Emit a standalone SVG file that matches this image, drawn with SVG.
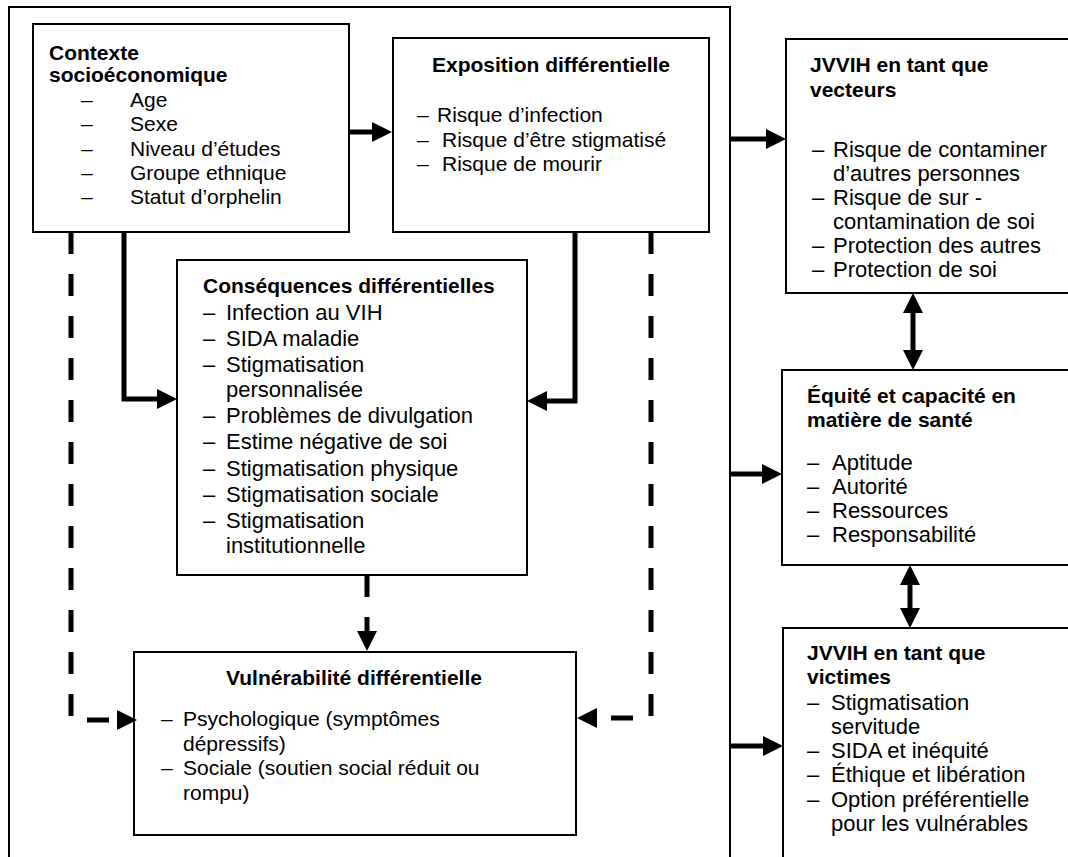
<svg xmlns="http://www.w3.org/2000/svg" width="1068" height="857" viewBox="0 0 1068 857">
<style>
.box{fill:#fff;stroke:#000;stroke-width:2}
.frame{fill:none;stroke:#000;stroke-width:2}
text{font-family:"Liberation Sans",Arial,sans-serif;fill:#000}
.t{font-size:21px;font-weight:bold}
.i{font-size:21px}
.j{font-size:22px}
.c{fill:none;stroke:#000;stroke-width:5}
.d{fill:none;stroke:#000;stroke-width:5;stroke-dasharray:22 20}
</style>
<defs>
<marker id="ah" markerUnits="userSpaceOnUse" markerWidth="20" markerHeight="20" viewBox="0 0 20 20" refX="1" refY="10" orient="auto-start-reverse">
<path d="M0,0 L20,10 L0,20 z" fill="#000"/>
</marker>
</defs>
<rect width="1068" height="857" fill="#fff"/>
<path class="frame" d="M9,857 V7 H730 V857"/>

<g id="contexte">
<rect class="box" x="33" y="24" width="316" height="208"/>
<text class="t" x="49" y="60">Contexte</text>
<text class="t" x="49" y="82">socioéconomique</text>
<g class="i">
<text x="81" y="107">–</text><text x="130" y="107">Age</text>
<text x="81" y="131">–</text><text x="130" y="131">Sexe</text>
<text x="81" y="155.5">–</text><text x="130" y="155.5">Niveau d’études</text>
<text x="81" y="180">–</text><text x="130" y="180">Groupe ethnique</text>
<text x="81" y="204">–</text><text x="130" y="204">Statut d’orphelin</text>
</g>
</g>

<g id="exposition">
<rect class="box" x="393" y="38" width="316" height="194"/>
<text class="t" x="551" y="72" text-anchor="middle">Exposition différentielle</text>
<g class="i">
<text x="417" y="122">–</text><text x="437" y="122">Risque d’infection</text>
<text x="417" y="146.5">–</text><text x="442" y="146.5">Risque d’être stigmatisé</text>
<text x="417" y="171">–</text><text x="442" y="171">Risque de mourir</text>
</g>
</g>

<g id="consequences">
<rect class="box" x="177" y="260" width="350" height="315"/>
<text class="t" x="203" y="293">Conséquences différentielles</text>
<g class="j">
<text x="203" y="320">–</text><text x="226" y="320">Infection au VIH</text>
<text x="203" y="346">–</text><text x="226" y="346">SIDA maladie</text>
<text x="203" y="372">–</text><text x="226" y="372">Stigmatisation</text>
<text x="226" y="397">personnalisée</text>
<text x="203" y="423">–</text><text x="226" y="423">Problèmes de divulgation</text>
<text x="203" y="449">–</text><text x="226" y="449">Estime négative de soi</text>
<text x="203" y="476">–</text><text x="226" y="476">Stigmatisation physique</text>
<text x="203" y="502">–</text><text x="226" y="502">Stigmatisation sociale</text>
<text x="203" y="528">–</text><text x="226" y="528">Stigmatisation</text>
<text x="226" y="553">institutionnelle</text>
</g>
</g>

<g id="vulnerabilite">
<rect class="box" x="134" y="652" width="442" height="183"/>
<text class="t" x="354" y="685" text-anchor="middle">Vulnérabilité différentielle</text>
<g class="i">
<text x="161" y="726">–</text><text x="183" y="726">Psychologique (symptômes</text>
<text x="183" y="750.5">dépressifs)</text>
<text x="161" y="775">–</text><text x="183" y="775">Sociale (soutien social réduit ou</text>
<text x="183" y="799.5">rompu)</text>
</g>
</g>

<g id="vecteurs">
<rect class="box" x="786" y="39" width="300" height="254"/>
<text class="t" x="810" y="72">JVVIH en tant que</text>
<text class="t" x="810" y="96.5">vecteurs</text>
<g class="j">
<text x="812" y="156.5">–</text><text x="833" y="156.5">Risque de contaminer</text>
<text x="833" y="180.5">d’autres personnes</text>
<text x="812" y="204.5">–</text><text x="833" y="204.5">Risque de sur -</text>
<text x="833" y="228.5">contamination de soi</text>
<text x="812" y="252.5">–</text><text x="833" y="252.5">Protection des autres</text>
<text x="812" y="276.5">–</text><text x="833" y="276.5">Protection de soi</text>
</g>
</g>

<g id="equite">
<rect class="box" x="782" y="370" width="300" height="195"/>
<text class="t" x="807" y="403">Équité et capacité en</text>
<text class="t" x="807" y="427">matière de santé</text>
<g class="j">
<text x="807" y="470">–</text><text x="832" y="470">Aptitude</text>
<text x="807" y="494">–</text><text x="832" y="494">Autorité</text>
<text x="807" y="518">–</text><text x="832" y="518">Ressources</text>
<text x="807" y="542">–</text><text x="832" y="542">Responsabilité</text>
</g>
</g>

<g id="victimes">
<rect class="box" x="783" y="628" width="300" height="260"/>
<text class="t" x="807" y="660">JVVIH en tant que</text>
<text class="t" x="807" y="684">victimes</text>
<g class="j">
<text x="807" y="710">–</text><text x="831" y="710">Stigmatisation</text>
<text x="831" y="734">servitude</text>
<text x="807" y="758">–</text><text x="831" y="758">SIDA et inéquité</text>
<text x="807" y="782">–</text><text x="831" y="782">Éthique et libération</text>
<text x="807" y="807">–</text><text x="831" y="807">Option préférentielle</text>
<text x="831" y="831">pour les vulnérables</text>
</g>
</g>

<g id="connectors">
<path class="c" d="M349,132 H373" marker-end="url(#ah)"/>
<path class="c" d="M124,232 V399 H158" marker-end="url(#ah)"/>
<path class="c" d="M575,232 V401 H546" marker-end="url(#ah)"/>
<path class="d" d="M71,232 V720 H118" marker-end="url(#ah)"/>
<path class="d" d="M651,232 V718 H596" marker-end="url(#ah)"/>
<path class="d" d="M367,575 V632" marker-end="url(#ah)"/>
<path class="c" d="M730,139 H767" marker-end="url(#ah)"/>
<path class="c" d="M730,474 H763" marker-end="url(#ah)"/>
<path class="c" d="M730,746 H764" marker-end="url(#ah)"/>
<path class="c" d="M913,312 V351" marker-start="url(#ah)" marker-end="url(#ah)"/>
<path class="c" d="M910,584 V609" marker-start="url(#ah)" marker-end="url(#ah)"/>
</g>
</svg>
